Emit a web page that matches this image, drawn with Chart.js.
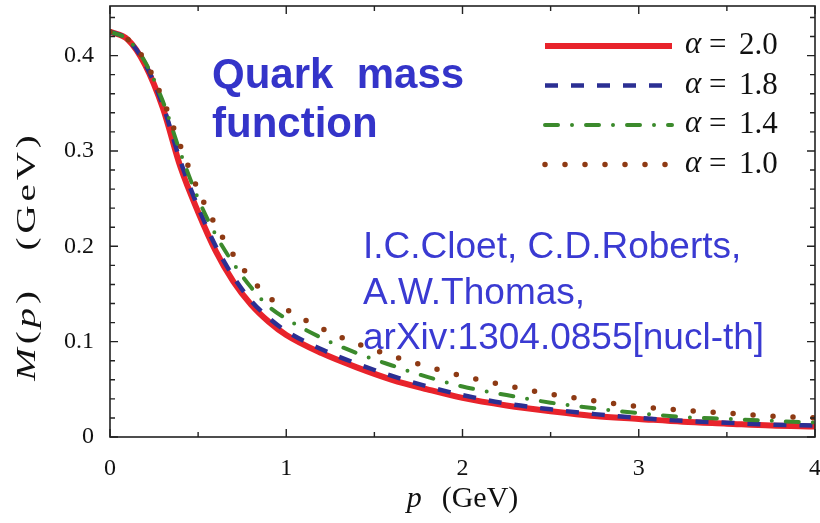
<!DOCTYPE html>
<html>
<head>
<meta charset="utf-8">
<script src="https://cdn.jsdelivr.net/npm/chart.js@4.4.1/dist/chart.umd.min.js"></script>
<style>
  html, body { margin: 0; padding: 0; background: #ffffff; }
  #wrap { width: 820px; height: 523px; position: relative; }
</style>
</head>
<body>
<div id="wrap"><canvas id="c" width="820" height="523"></canvas></div>
<script>
// ---- data ----
const pValues  = [0, 0.1, 0.2, 0.3, 0.4, 0.5, 0.6, 0.7, 0.8, 0.9, 1.0, 1.2, 1.4, 1.6, 1.8, 2.0, 2.25, 2.5, 2.75, 3.0, 3.25, 3.5, 3.75, 4.0];
const mAlpha20 = [0.425, 0.417, 0.390, 0.345, 0.283, 0.236, 0.195, 0.163, 0.139, 0.121, 0.107, 0.088, 0.073, 0.060, 0.050, 0.041, 0.033, 0.027, 0.022, 0.019, 0.016, 0.014, 0.012, 0.011];
const mAlpha18 = [0.425, 0.417, 0.391, 0.348, 0.289, 0.241, 0.200, 0.168, 0.143, 0.125, 0.111, 0.092, 0.077, 0.064, 0.053, 0.044, 0.035, 0.029, 0.024, 0.020, 0.017, 0.015, 0.013, 0.012];
const mAlpha14 = [0.425, 0.417, 0.393, 0.352, 0.298, 0.250, 0.212, 0.182, 0.157, 0.137, 0.124, 0.104, 0.088, 0.075, 0.063, 0.053, 0.044, 0.036, 0.030, 0.025, 0.021, 0.019, 0.017, 0.015];
const mAlpha10 = [0.425, 0.417, 0.394, 0.354, 0.305, 0.259, 0.222, 0.191, 0.166, 0.147, 0.134, 0.114, 0.098, 0.085, 0.074, 0.064, 0.054, 0.045, 0.038, 0.032, 0.028, 0.025, 0.022, 0.020];
const alphaLabels = ['2.0', '1.8', '1.4', '1.0'];
const xTickLabels = [0, 1, 2, 3, 4];
const xMinorTicks = [0.5, 1.5, 2.5, 3.5];
const yTickLabels = [0, 0.1, 0.2, 0.3, 0.4];
const yMinorTicks = [0.02, 0.04, 0.06, 0.08, 0.12, 0.14, 0.16, 0.18, 0.22, 0.24, 0.26, 0.28, 0.32, 0.34, 0.36, 0.38, 0.42, 0.44];
const titleLines = ['Quark  mass', 'function'];
const citeLines = ['I.C.Cloet, C.D.Roberts,', 'A.W.Thomas,', 'arXiv:1304.0855[nucl-th]'];

const toXY = arr => pValues.map((p, i) => ({ x: p, y: arr[i] }));

const seriesStyles = [
  { data: mAlpha20, color: '#e8232b', width: 6,   dash: [],               cap: 'butt',  order: 4 },
  { data: mAlpha18, color: '#2b2f93', width: 4.5, dash: [13, 13],         cap: 'butt',  order: 3 },
  { data: mAlpha14, color: '#3b8a2c', width: 4,   dash: [13, 14, 0, 14],  cap: 'round', order: 2 },
  { data: mAlpha10, color: '#8e3a14', width: 5.5, dash: [0, 20],          cap: 'round', order: 1 }
];

const datasets = seriesStyles.map((s, i) => ({
  label: 'α = ' + alphaLabels[i],
  data: toXY(s.data),
  borderColor: s.color,
  backgroundColor: s.color,
  borderWidth: s.width,
  borderDash: s.dash,
  borderCapStyle: s.cap,
  cubicInterpolationMode: 'monotone',
  pointRadius: 0,
  fill: false,
  order: s.order
}));

const SERIF = '"Liberation Serif", "DejaVu Serif", serif';
const SANS = '"Liberation Sans", Arial, sans-serif';

const decorPlugin = {
  id: 'decor',
  afterDraw(chart) {
    const ctx = chart.ctx;
    const a = chart.chartArea;
    const xs = chart.scales.x, ys = chart.scales.y;
    ctx.save();
    // frame
    ctx.strokeStyle = '#222';
    ctx.lineWidth = 1.6;
    ctx.setLineDash([]);
    ctx.strokeRect(a.left, a.top, a.right - a.left, a.bottom - a.top);
    // inward ticks
    ctx.lineWidth = 1.4;
    const tickX = (v, len) => {
      const px = xs.getPixelForValue(v);
      ctx.beginPath();
      ctx.moveTo(px, a.bottom); ctx.lineTo(px, a.bottom - len);
      ctx.moveTo(px, a.top); ctx.lineTo(px, a.top + len);
      ctx.stroke();
    };
    const tickY = (v, len) => {
      const py = ys.getPixelForValue(v);
      ctx.beginPath();
      ctx.moveTo(a.left, py); ctx.lineTo(a.left + len, py);
      ctx.moveTo(a.right, py); ctx.lineTo(a.right - len, py);
      ctx.stroke();
    };
    xTickLabels.forEach(v => tickX(v, 8));
    xMinorTicks.forEach(v => tickX(v, 5));
    yTickLabels.forEach(v => tickY(v, 8));
    yMinorTicks.forEach(v => tickY(v, 5));

    // legend
    const lx0 = 545, lx1 = 672, ly0 = 46, lstep = 39.5;
    chart.data.datasets.forEach((ds, i) => {
      const y = ly0 + i * lstep;
      ctx.strokeStyle = ds.borderColor;
      ctx.lineWidth = ds.borderWidth;
      ctx.lineCap = ds.borderCapStyle;
      ctx.setLineDash(ds.borderDash);
      ctx.beginPath();
      ctx.moveTo(lx0, y); ctx.lineTo(lx1, y);
      ctx.stroke();
      ctx.setLineDash([]);
      ctx.fillStyle = '#111';
      ctx.textBaseline = 'middle';
      ctx.textAlign = 'left';
      ctx.font = 'italic 31px ' + SERIF;
      ctx.fillText('α', 685, y - 1);
      ctx.font = '31px ' + SERIF;
      ctx.fillText('=', 709, y);
      ctx.fillText(alphaLabels[i], 739, y);
    });
    ctx.lineCap = 'butt';

    // annotations
    ctx.fillStyle = '#3434c9';
    ctx.textBaseline = 'alphabetic';
    ctx.font = 'bold 42px ' + SANS;
    ctx.fillText(titleLines[0], 212, 88);
    ctx.fillText(titleLines[1], 212, 137);
    ctx.fillStyle = '#3a3ad2';
    ctx.font = '37px ' + SANS;
    citeLines.forEach((t, i) => ctx.fillText(t, 363, 258 + i * 45.5));

    // x axis title
    ctx.fillStyle = '#111';
    ctx.textBaseline = 'alphabetic';
    const xt = (a.left + a.right) / 2;
    ctx.font = 'italic 30px ' + SERIF;
    const pW = ctx.measureText('p').width;
    ctx.font = '30px ' + SERIF;
    const gW = ctx.measureText('(GeV)').width;
    const gap = 20;
    let sx = xt - (pW + gap + gW) / 2;
    ctx.font = 'italic 30px ' + SERIF;
    ctx.fillText('p', sx, 507);
    ctx.font = '30px ' + SERIF;
    ctx.fillText('(GeV)', sx + pW + gap, 507);

    // y axis title (rotated), drawn glyph by glyph with extra spacing
    const FS = 32, SP = 3.2, WORDGAP = 30;
    const parts = [
      ['M', true], ['(', false], ['p', true], [')', false], [null, false],
      ['(', false], ['G', false], ['e', false], ['V', false], [')', false]
    ];
    ctx.save();
    ctx.translate(35, 256);
    ctx.rotate(-Math.PI / 2);
    ctx.scale(1.22, 0.85);
    const fontFor = it => (it ? 'italic ' : '') + FS + 'px ' + SERIF;
    let total = 0;
    parts.forEach(([ch, it]) => {
      if (ch === null) { total += WORDGAP; return; }
      ctx.font = fontFor(it);
      total += ctx.measureText(ch).width + SP;
    });
    let cx = -total / 2;
    parts.forEach(([ch, it]) => {
      if (ch === null) { cx += WORDGAP; return; }
      ctx.font = fontFor(it);
      ctx.fillText(ch, cx, 0);
      cx += ctx.measureText(ch).width + SP;
    });
    ctx.restore();

    ctx.restore();
  }
};

new Chart(document.getElementById('c'), {
  type: 'line',
  data: { datasets },
  options: {
    responsive: false,
    animation: false,
    events: [],
    layout: { padding: { top: 6, right: 5, left: 0, bottom: 0 } },
    plugins: { legend: { display: false }, tooltip: { enabled: false } },
    scales: {
      x: {
        type: 'linear', min: 0, max: 4,
        afterBuildTicks: s => { s.ticks = xTickLabels.map(v => ({ value: v })); },
        afterFit: s => { s.height = 86; s.paddingLeft = 0; s.paddingRight = 0; },
        grid: { display: true, drawOnChartArea: false, drawTicks: false },
        border: { display: false },
        ticks: { padding: 17, maxRotation: 0, autoSkip: false, color: '#111',
                 font: { family: SERIF, size: 24 }, callback: v => String(v) }
      },
      y: {
        type: 'linear', min: 0, max: 0.452,
        afterBuildTicks: s => { s.ticks = yTickLabels.map(v => ({ value: v })); },
        afterFit: s => { s.width = 110; s.paddingTop = 0; s.paddingBottom = 0; },
        grid: { display: true, drawOnChartArea: false, drawTicks: false },
        border: { display: false },
        ticks: { padding: 16, autoSkip: false, color: '#111',
                 font: { family: SERIF, size: 24 }, callback: v => String(v) }
      }
    }
  },
  plugins: [decorPlugin]
});
</script>
</body>
</html>
